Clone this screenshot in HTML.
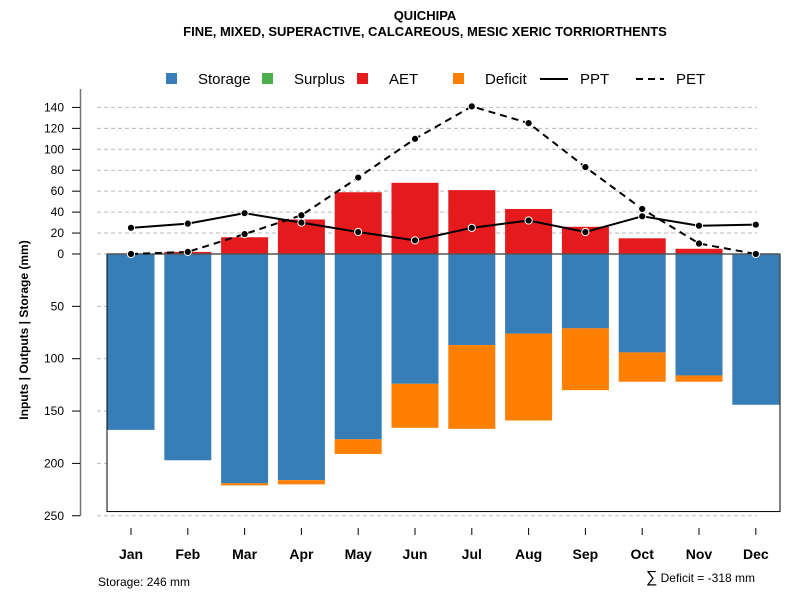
<!DOCTYPE html>
<html><head><meta charset="utf-8"><style>
body{margin:0;background:#fff}
svg{font-family:"Liberation Sans",sans-serif}
</style></head><body>
<svg id="chart" width="800" height="600" xmlns="http://www.w3.org/2000/svg">
<text x="425" y="20" text-anchor="middle" font-size="13" font-weight="bold">QUICHIPA</text>
<text x="425" y="36" text-anchor="middle" font-size="13" font-weight="bold">FINE, MIXED, SUPERACTIVE, CALCAREOUS, MESIC XERIC TORRIORTHENTS</text>
<g>
<g><rect x="166" y="73" width="11" height="11" fill="#377eb8"/><text x="198" y="84" font-size="15">Storage</text></g>
<g><rect x="262" y="73" width="11" height="11" fill="#4daf4a"/><text x="294" y="84" font-size="15">Surplus</text></g>
<g><rect x="357" y="73" width="11" height="11" fill="#e41a1c"/><text x="389" y="84" font-size="15">AET</text></g>
<g><rect x="453" y="73" width="11" height="11" fill="#ff7f00"/><text x="485" y="84" font-size="15">Deficit</text></g>
<g><line x1="540" y1="79" x2="568" y2="79" stroke="#000" stroke-width="2"/><text x="580" y="84" font-size="15">PPT</text></g>
<g><line x1="636" y1="79" x2="664" y2="79" stroke="#000" stroke-width="2" stroke-dasharray="7,5"/><text x="676" y="84" font-size="15">PET</text></g>
</g>
<text transform="translate(28,330) rotate(-90)" text-anchor="middle" font-size="12" font-weight="bold">Inputs | Outputs | Storage    (mm)</text>
<line x1="80.5" x2="80.5" y1="89" y2="516" stroke="#777" stroke-width="1.5"/>
<g id="plot"></g>
<text x="98" y="586" font-size="12">Storage: 246 mm</text>
<text x="755" y="582" text-anchor="end" font-size="12"><tspan font-size="16">∑</tspan> Deficit = -318 mm</text>
</svg>
<script>
const months=["Jan","Feb","Mar","Apr","May","Jun","Jul","Aug","Sep","Oct","Nov","Dec"];
const storage=[168,197,219,216,177,124,87,76,71,94,116,144];
const deficit=[0,0,2,4,14,42,80,83,59,28,6,0];
const aet=[0,2,16,33,59,68,61,43,26,15,5,0];
const ppt=[25,29,39,30,21,13,25,32,21,36,27,28];
const pet=[0,2,19,37,73,110,141,125,83,43,10,0];
const topTicks=[0,20,40,60,80,100,120,140];
const botTicks=[50,100,150,200,250];
const totalStorage=246;
const NS="http://www.w3.org/2000/svg";
const g=document.getElementById('plot');
const y0=254,k=1.047;
const yUp=v=>y0-v*k, yDn=v=>y0+v*k;
const xc=i=>131+i*56.8;
const bw=47;
function el(t,a,p){const e=document.createElementNS(NS,t);for(const n in a)e.setAttribute(n,a[n]);(p||g).appendChild(e);return e;}
function tick(y,v){
 const gl=el('line',{x1:97,x2:757,y1:y,y2:y,stroke:'#bbb','stroke-dasharray':'4,3'});
 
 
 const tk=el('line',{x1:72,x2:80,y1:y,y2:y,stroke:'#000'});
 
 
 const t=el('text',{x:64,y:y+4,'text-anchor':'end','font-size':12});t.textContent=v;
 
 
}
topTicks.forEach(v=>tick(yUp(v),v));
botTicks.forEach(v=>tick(yDn(v),v));
const box=el('rect',{x:107,y:y0,width:673,height:totalStorage*k,fill:'#fff',stroke:'#000'});


months.forEach((m,i)=>{
 const x=xc(i)-bw/2;
 const s=el('rect',{x:x,y:y0,width:bw,height:storage[i]*k,fill:'#377eb8'});
 
 
 if(deficit[i]>0){const d=el('rect',{x:x,y:yDn(storage[i]),width:bw,height:deficit[i]*k,fill:'#ff7f00'});
 
 }
 if(aet[i]>0){const a=el('rect',{x:x,y:yUp(aet[i]),width:bw,height:aet[i]*k,fill:'#e41a1c'});
 
 }
 const tk=el('line',{x1:xc(i),x2:xc(i),y1:528,y2:535,stroke:'#000'});
 
 
 const t=el('text',{x:xc(i),y:559,'text-anchor':'middle','font-size':14,'font-weight':'bold'});t.textContent=m;
 
 
});
const zl=el('line',{x1:107,x2:780,y1:y0,y2:y0,stroke:'#555','stroke-width':1.5});


function series(arr,name,dash){
 const p=el('polyline',{points:arr.map((v,i)=>xc(i)+','+yUp(v)).join(' '),fill:'none',stroke:'#000','stroke-width':2,'stroke-dasharray':dash});
 
 
 arr.forEach((v,i)=>{const c=el('circle',{cx:xc(i),cy:yUp(v),r:3.6,fill:'#000',stroke:'#fff','stroke-width':1});
 
 });
}
series(pet,'pet','7,5');
series(ppt,'ppt','none');
</script>
</body></html>
